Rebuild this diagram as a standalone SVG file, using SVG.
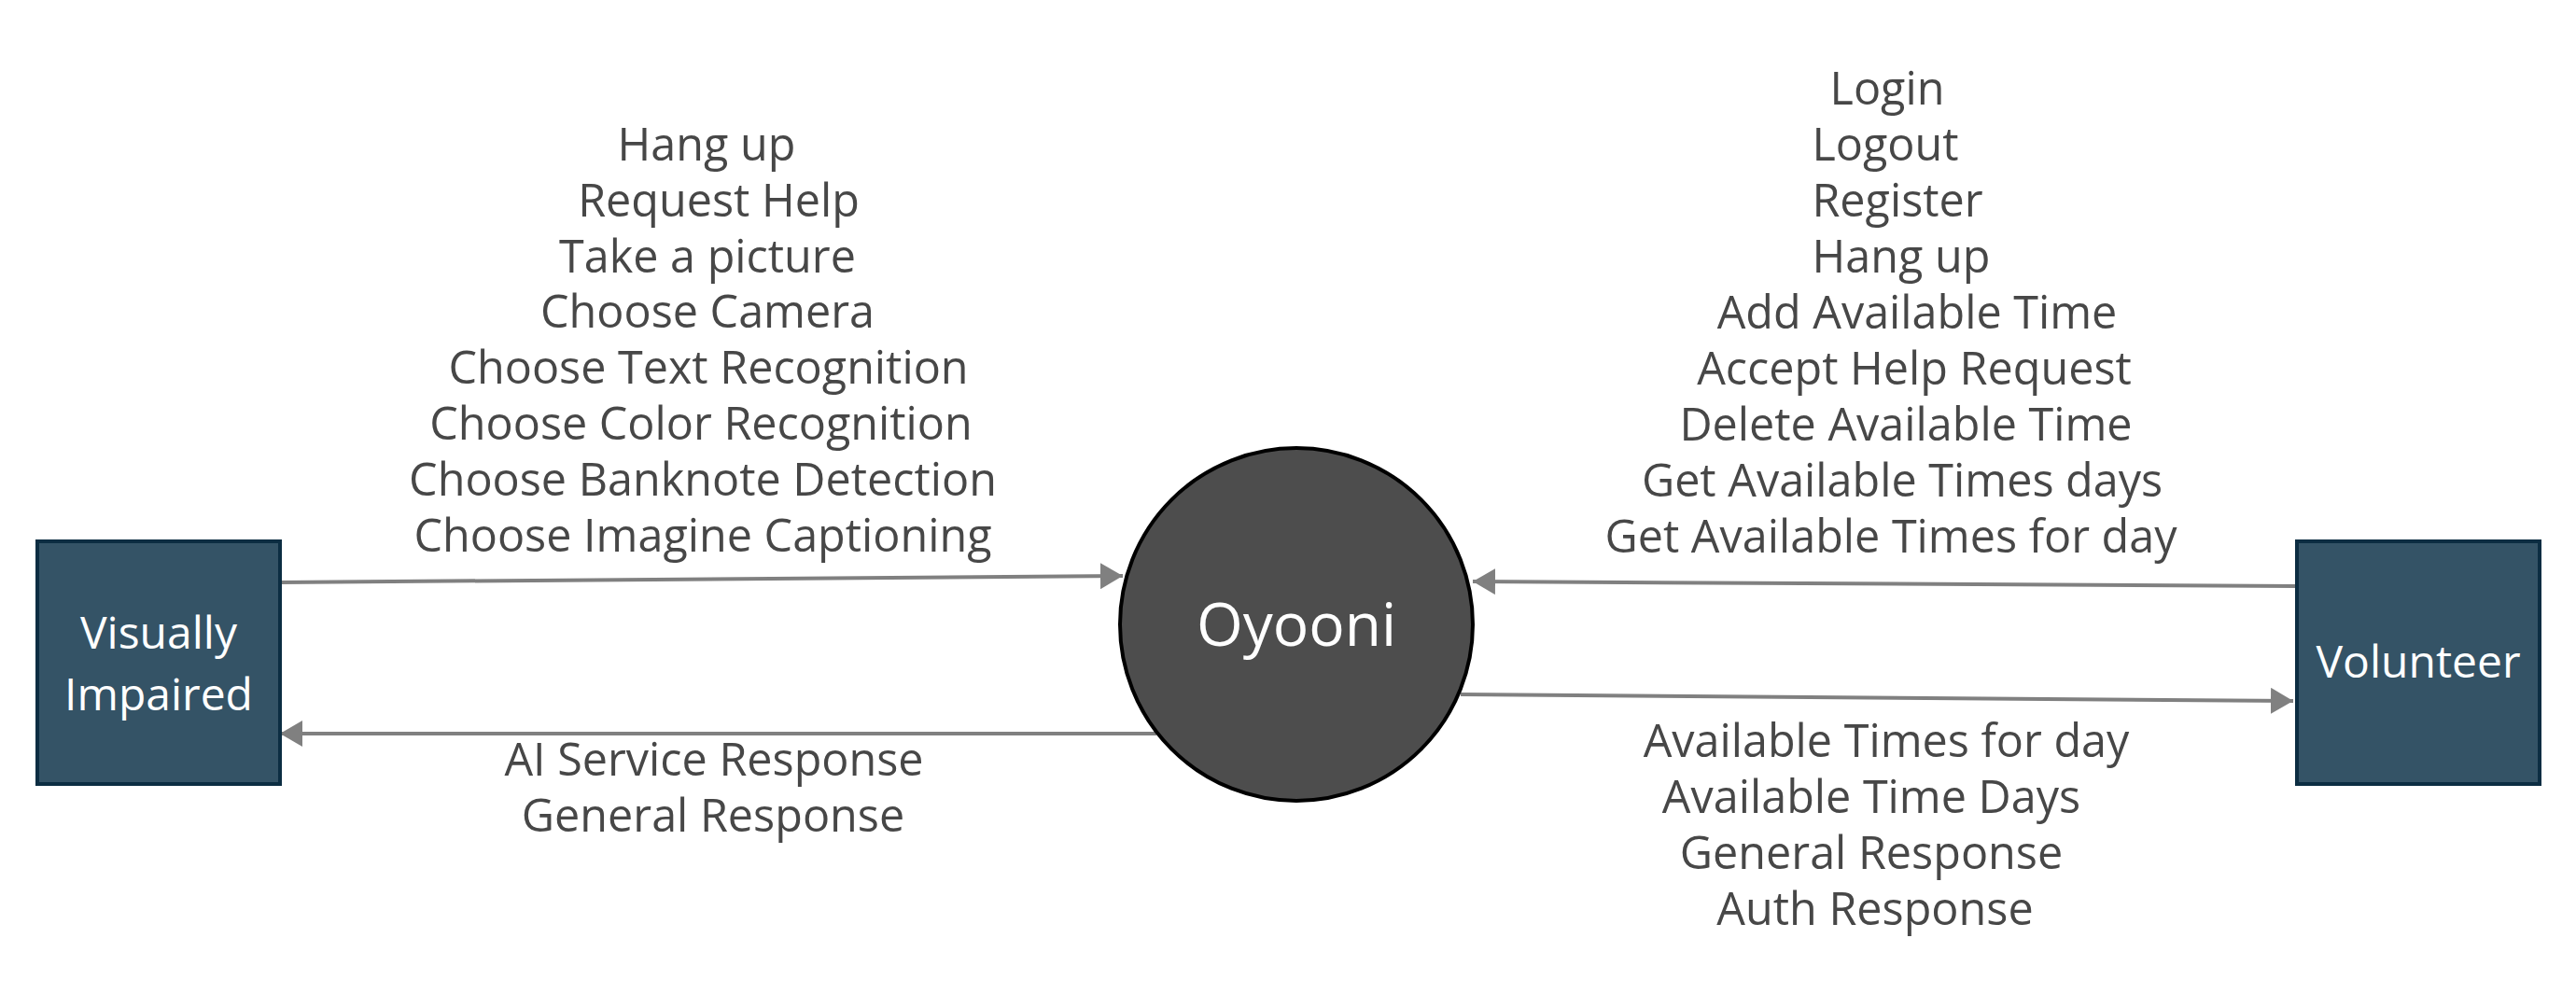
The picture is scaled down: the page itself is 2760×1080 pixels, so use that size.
<svg xmlns="http://www.w3.org/2000/svg" width="2760" height="1080" viewBox="0 0 2760 1080">
<style>
.lbl{font-family:"Open Sans","Noto Sans","DejaVu Sans",sans-serif;font-size:48.5px;fill:#474747;text-anchor:middle}
.ntxt{font-family:"Open Sans","Noto Sans","DejaVu Sans",sans-serif;font-size:48px;fill:#ffffff;text-anchor:middle}
.ext{fill:#345366;stroke:#0c2d42;stroke-width:4}
.conn{stroke:#808080;stroke-width:4;fill:none}
</style>
<defs>
<marker id="arr" markerUnits="userSpaceOnUse" markerWidth="26" markerHeight="28" refX="24" refY="14" orient="auto" viewBox="0 0 26 28">
<path d="M0,0 L24,14 L0,28 Z" fill="#808080"/>
</marker>
</defs>
<rect width="2760" height="1080" fill="#ffffff"/>
<g id="connectors">
<line class="conn" x1="300" y1="624" x2="1203" y2="617" marker-end="url(#arr)"/>
<line class="conn" x1="1239" y1="786" x2="300" y2="786" marker-end="url(#arr)"/>
<line class="conn" x1="2460" y1="628" x2="1578" y2="623" marker-end="url(#arr)"/>
<line class="conn" x1="1565" y1="744" x2="2457" y2="751" marker-end="url(#arr)"/>
</g>
<g id="node-visually-impaired">
<rect class="ext" x="40" y="580" width="260" height="260"/>
<text class="ntxt" x="170" y="695">Visually</text>
<text class="ntxt" x="170" y="761">Impaired</text>
</g>
<g id="node-oyooni">
<circle cx="1389" cy="669" r="189" fill="#4d4d4d" stroke="#000000" stroke-width="4"/>
<text class="ntxt" x="1389" y="692" style="font-size:64px">Oyooni</text>
</g>
<g id="node-volunteer">
<rect class="ext" x="2461" y="580" width="260" height="260"/>
<text class="ntxt" x="2591" y="726">Volunteer</text>
</g>
<g id="labels-vi-to-system">
<text class="lbl" x="757" y="172">Hang up</text>
<text class="lbl" x="770" y="232">Request Help</text>
<text class="lbl" x="758" y="292">Take a picture</text>
<text class="lbl" x="758" y="351">Choose Camera</text>
<text class="lbl" x="759" y="411">Choose Text Recognition</text>
<text class="lbl" x="751" y="471">Choose Color Recognition</text>
<text class="lbl" x="753" y="531">Choose Banknote Detection</text>
<text class="lbl" x="753" y="591">Choose Imagine Captioning</text>
</g>
<g id="labels-system-to-vi">
<text class="lbl" x="765" y="831">AI Service Response</text>
<text class="lbl" x="764" y="891">General Response</text>
</g>
<g id="labels-vol-to-system">
<text class="lbl" x="2022" y="112">Login</text>
<text class="lbl" x="2020" y="172">Logout</text>
<text class="lbl" x="2033" y="232">Register</text>
<text class="lbl" x="2037" y="292">Hang up</text>
<text class="lbl" x="2054" y="352">Add Available Time</text>
<text class="lbl" x="2051" y="412">Accept Help Request</text>
<text class="lbl" x="2042" y="472">Delete Available Time</text>
<text class="lbl" x="2038" y="532">Get Available Times days</text>
<text class="lbl" x="2026" y="592">Get Available Times for day</text>
</g>
<g id="labels-system-to-vol">
<text class="lbl" x="2021" y="811">Available Times for day</text>
<text class="lbl" x="2005" y="871">Available Time Days</text>
<text class="lbl" x="2005" y="931">General Response</text>
<text class="lbl" x="2009" y="991">Auth Response</text>
</g>
</svg>
